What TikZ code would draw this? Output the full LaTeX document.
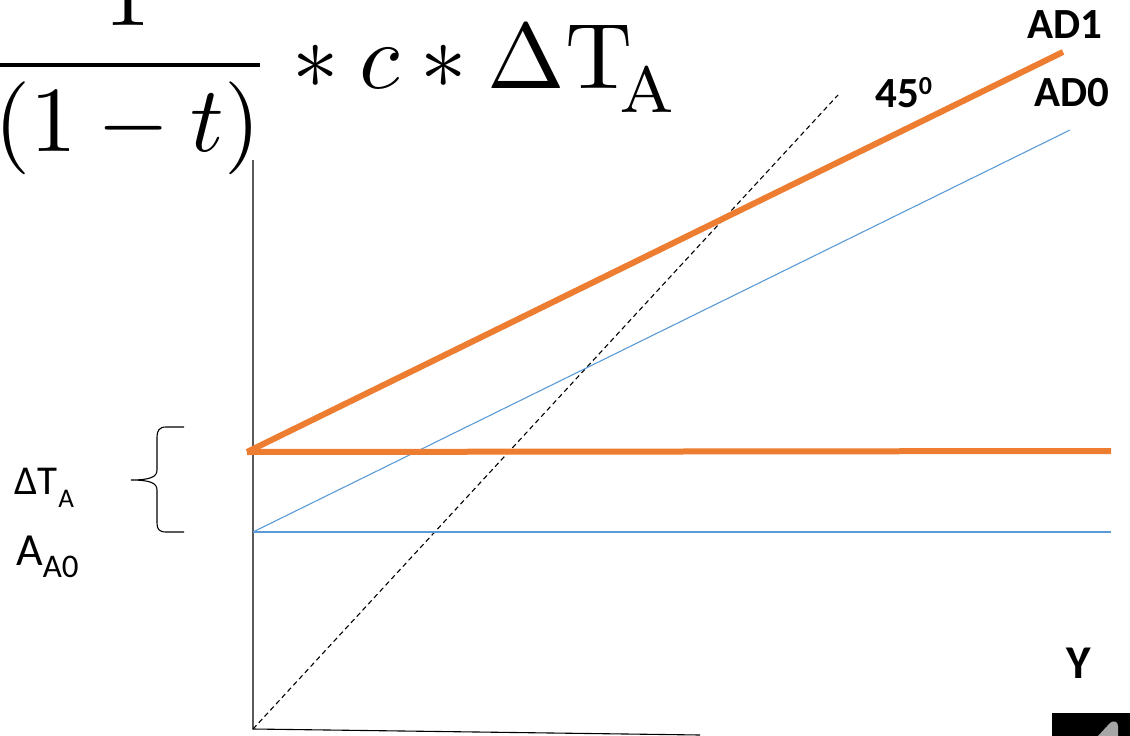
\documentclass[tikz,border=0pt]{standalone}
\usepackage{graphicx}
\usepackage{fontspec}
\newfontfamily\carlitofont{Carlito}
\definecolor{orng}{HTML}{ED7D31}
\definecolor{blu}{HTML}{5B9BD5}
\newcommand{\fs}[1]{\fontsize{#1}{#1}\selectfont}
\begin{document}
\begin{tikzpicture}[x=1pt,y=-1pt,
  axis/.style={draw=black,line width=1.1pt},
  adone/.style={draw=orng,line width=6pt},
  adzero/.style={draw=blu,line width=1.1pt},
  fortyfive/.style={draw=black,line width=1.1pt,dash pattern=on 5pt off 3.5pt},
  lbl/.style={inner sep=0pt,font=\carlitofont},
  blbl/.style={inner sep=0pt,font=\carlitofont\bfseries}]
\useasboundingbox (0,0) rectangle (1130,736);
\begin{scope}
\clip (0,0) rectangle (1130,736);
% formula
\node[inner sep=0pt,anchor=base west] (formula) at (-17,88)
  {\scalebox{9.3}{$\displaystyle\frac{1}{(1-t)}*c*\Delta\mathrm{T}_{\!\raisebox{-1.1pt}{$\scriptstyle\mathrm{A}$}}$}};
% axes
\coordinate (O) at (253,729);
\coordinate (ytop) at (253,160);
\coordinate (xend) at (700,735);
\draw[axis] (ytop) -- (O) -- (xend);
% 45 degree
\coordinate (d1) at (838,95);
\draw[fortyfive] (O) -- (d1);
% AD0
\coordinate (b0) at (253,532);
\coordinate (b1) at (1070,130);
\coordinate (b2) at (1111,532);
\draw[adzero] (b0) -- (b1);
\draw[adzero] (b0) -- (b2);
% AD1
\coordinate (a0) at (247,452);
\coordinate (a1) at (1063,52);
\coordinate (a2) at (1111,451);
\draw[adone] (a0) -- (a1);
\draw[adone] (a0) -- (a2);
% brace
\draw[line width=1.1pt] (184,427) -- (166,427) .. controls (159,427) and (157,431) .. (157,437)
  -- (157,470) .. controls (157,477) and (150,480) .. (131,480)
  .. controls (150,480) and (157,483) .. (157,490) -- (157,523)
  .. controls (157,529) and (159,532) .. (166,532) -- (184,532);
% labels
\node[lbl,anchor=base west] (dta) at (14,494) {\fs{41}ΔT\hspace{1pt}\raisebox{-13pt}{\fs{27}A}};
\node[lbl,anchor=base west] (aa0) at (16,565) {\fs{46}A\raisebox{-12pt}{\fs{33}A0}};
\node[blbl,anchor=base west] (l45) at (875,107) {\fs{43}45\raisebox{13pt}{\fs{26}0}};
\node[blbl,anchor=base west] (lad1) at (1027,38) {\fs{43}AD1};
\node[blbl,anchor=base west] (lad0) at (1034,106) {\fs{43}AD0};
\node[blbl,anchor=base west] (ly) at (1066,678) {\fs{47}Y};
% icon
\fill[black] (1052,713) rectangle (1131,737);
\fill[gray!70] (1097,737) -- (1110,723) .. controls (1113,720) and (1118,721) .. (1118,726) -- (1118,737) -- cycle;
\end{scope}
\end{tikzpicture}
\end{document}
